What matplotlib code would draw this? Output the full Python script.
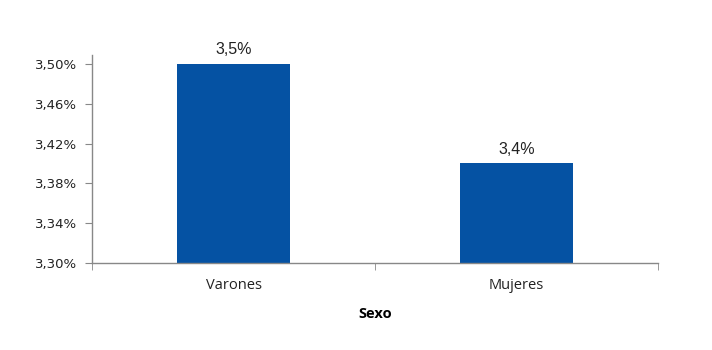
import matplotlib
matplotlib.use("Agg")
import matplotlib.pyplot as plt
from matplotlib.ticker import FuncFormatter, FixedLocator

categories = ["Varones", "Mujeres"]
values = [3.50, 3.40]
value_labels = ["3,5%", "3,4%"]
yticks = [3.30, 3.34, 3.38, 3.42, 3.46, 3.50]
xlabel = "Sexo"

fig = plt.figure(figsize=(7.12, 3.5), dpi=100)
ax = fig.add_axes([92/712, 1-263/350, (658-92)/712, (263-55)/350])

x = list(range(len(categories)))
bars = ax.bar(x, values, width=0.4, color="#0552A3", zorder=2)
ax.set_xlim(-0.5, len(categories) - 0.5)
ax.set_ylim(3.30, 3.509)

for b, lab in zip(bars, value_labels):
    ax.annotate(lab, (b.get_x() + b.get_width()/2, b.get_height()),
                xytext=(0, 5), textcoords="offset points", ha="center", va="bottom",
                fontsize=11.5, family="Liberation Sans", color="#222222")

ax.set_yticks(yticks)
ax.yaxis.set_major_formatter(FuncFormatter(lambda v, p: f"{v:.2f}".replace(".", ",") + "%"))
for t in ax.get_yticklabels():
    t.set_family("DejaVu Sans")
    t.set_fontsize(9.5)
    t.set_color("#222222")

ax.set_xticks(x)
ax.set_xticklabels(categories, fontsize=10.5, family="Open Sans", color="#222222")
ax.xaxis.set_minor_locator(FixedLocator([i - 0.5 for i in range(len(categories) + 1)]))
ax.tick_params(axis="x", which="major", length=0, pad=11)
ax.tick_params(axis="x", which="minor", length=5, color="#888888", direction="out")
ax.tick_params(axis="y", length=5, color="#888888", direction="out", pad=6)

ax.set_xlabel(xlabel, fontsize=10.5, family="Open Sans", fontweight="bold", labelpad=10)

for s in ["top", "right"]:
    ax.spines[s].set_visible(False)
for s in ["left", "bottom"]:
    ax.spines[s].set_color("#888888")
    ax.spines[s].set_linewidth(1.0)

fig.savefig("out.png", dpi=100, facecolor="white")
